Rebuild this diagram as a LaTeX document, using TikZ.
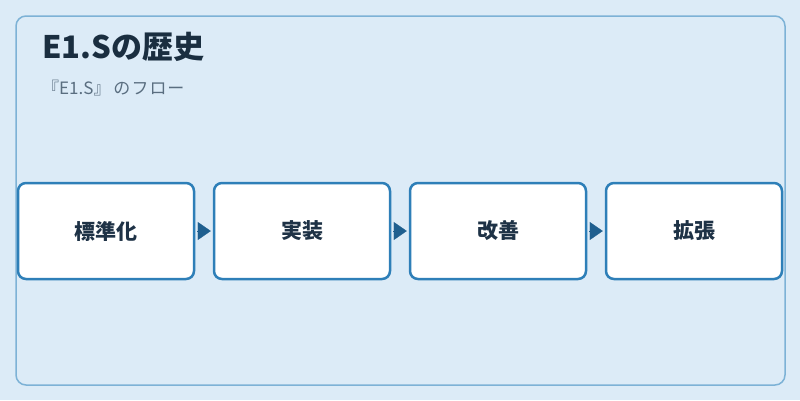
\documentclass[tikz,border=0pt]{standalone}
\usepackage{fontspec}
\setmainfont{Noto Sans CJK JP}
\usetikzlibrary{arrows.meta}
\definecolor{bg}{HTML}{DCEBF7}
\definecolor{frameline}{HTML}{7DB2D6}
\definecolor{boxline}{HTML}{2E7FB8}
\definecolor{arrowc}{HTML}{1F5F8F}
\definecolor{titlec}{HTML}{1A2E40}
\definecolor{subc}{HTML}{5A6E80}
\definecolor{textc}{HTML}{1E3246}
\tikzset{
  stepbox/.style={draw=boxline, line width=2.5pt, fill=white, rounded corners=8pt,
    minimum width=176pt, minimum height=96pt, inner sep=0pt,
    font=\fontsize{21pt}{21pt}\selectfont\bfseries, text=textc},
  flowarrow/.style={draw=arrowc, line width=0.2pt, -{Triangle[length=13pt,width=18pt]},
    arrowc, shorten <=2pt, shorten >=2pt}
}
\begin{document}
\begin{tikzpicture}[x=1pt,y=-1pt]
\useasboundingbox (0,0) rectangle (800,400);
\fill[bg] (0,0) rectangle (800,400);
\draw[frameline, line width=1.5pt, rounded corners=10pt] (16,16) rectangle (785,385);
\node[anchor=base west, inner sep=0pt, font=\fontsize{31pt}{31pt}\selectfont\bfseries, text=titlec] (title) at (42,58) {E1.Sの歴史};
\node[anchor=base west, inner sep=0pt, font=\fontsize{17pt}{17pt}\selectfont, text=subc] (sub) at (42,94) {『E1.S』\hspace{3pt}の\hspace{1pt}フ\hspace{1pt}ロ\hspace{1pt}ー};
\node[stepbox] (b1) at (106,231) {標準化};
\node[stepbox] (b2) at (302,231) {実装};
\node[stepbox] (b3) at (498,231) {改善};
\node[stepbox] (b4) at (694,231) {拡張};
\draw[flowarrow] (b1.east) -- (b2.west);
\draw[flowarrow] (b2.east) -- (b3.west);
\draw[flowarrow] (b3.east) -- (b4.west);
\end{tikzpicture}
\end{document}
